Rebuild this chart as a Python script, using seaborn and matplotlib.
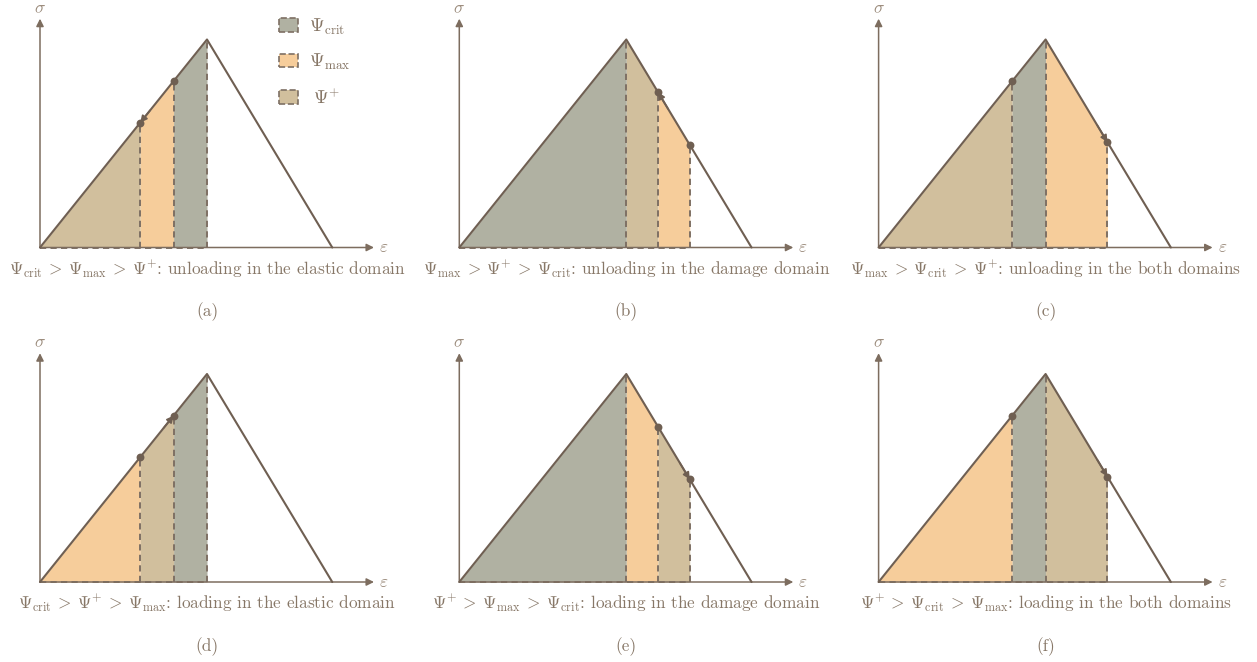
import numpy as np
import matplotlib
matplotlib.use("Agg")
import matplotlib.pyplot as plt
from matplotlib.patches import Patch
import seaborn as sns

sns.set_theme(style="white")
plt.rcParams["font.family"] = "serif"
plt.rcParams["font.serif"] = ["cmr10", "DejaVu Serif"]
plt.rcParams["mathtext.fontset"] = "cm"
plt.rcParams["axes.unicode_minus"] = False

# Bilinear softening law: elastic branch up to the peak, linear softening to failure
eps_curve = [0.0, 1.0, 1.75]
sigma_curve = [0.0, 1.0, 0.0]

# Energy thresholds (strain positions) bounding the shaded regions of each case
breaks = [
    [0.0, 0.6, 0.8, 1.0],
    [0.0, 1.0, 1.19, 1.38],
    [0.0, 0.8, 1.0, 1.37],
    [0.0, 0.6, 0.8, 1.0],
    [0.0, 1.0, 1.19, 1.38],
    [0.0, 0.8, 1.0, 1.37],
]
region_kinds = [
    ["plus", "max", "crit"],
    ["crit", "plus", "max"],
    ["plus", "crit", "max"],
    ["max", "plus", "crit"],
    ["crit", "max", "plus"],
    ["max", "crit", "plus"],
]
# Current and previous states marked on the curve; the arrow points to arrow_to
arrow_from = [0.8, 1.38, 0.8, 0.6, 1.19, 0.8]
arrow_to = [0.6, 1.19, 1.37, 0.8, 1.38, 1.37]

captions = [
    r"$\Psi_{\rm crit} \:>\: \Psi_{\max} \:>\: \Psi^{+}$: unloading in the elastic domain",
    r"$\Psi_{\max} \:>\: \Psi^{+} \:>\: \Psi_{\rm crit}$: unloading in the damage domain",
    r"$\Psi_{\max} \:>\: \Psi_{\rm crit} \:>\: \Psi^{+}$: unloading in the both domains",
    r"$\Psi_{\rm crit} \:>\: \Psi^{+} \:>\: \Psi_{\max}$: loading in the elastic domain",
    r"$\Psi^{+} \:>\: \Psi_{\max} \:>\: \Psi_{\rm crit}$: loading in the damage domain",
    r"$\Psi^{+} \:>\: \Psi_{\rm crit} \:>\: \Psi_{\max}$: loading in the both domains",
]
sub_labels = ["(a)", "(b)", "(c)", "(d)", "(e)", "(f)"]

legend_labels = {"crit": r"$\Psi_{\rm crit}$", "max": r"$\Psi_{\max}$", "plus": r"$\;\Psi^{+}$"}

fill_colors = {"crit": "#b0b1a2", "max": "#f6cd9b", "plus": "#d1bf9d"}
curve_color = "#6f5f52"
axis_color = "#7d6d5f"
dash_color = "#7e7064"
text_color = "#877767"

W, H = 1257, 662
fig = plt.figure(figsize=(W / 100, H / 100), dpi=100)

# Pixel layout of the six panels (origin of each sketch) and drawing scale
origins = [(40, 247.5), (459.3, 247.5), (878.6, 247.5),
           (40, 582), (459.3, 582), (878.6, 582)]
sx, sy = 167.0, 208.0
x0, x1, y0, y1 = -0.22, 2.25, -0.36, 1.2


def curve_at(e):
    return np.interp(e, eps_curve, sigma_curve)


axes = []
for k, (ox, oy) in enumerate(origins):
    left = (ox + x0 * sx) / W
    bottom = (H - oy + y0 * sy) / H
    ax = fig.add_axes([left, bottom, (x1 - x0) * sx / W, (y1 - y0) * sy / H])
    ax.set_xlim(x0, x1)
    ax.set_ylim(y0, y1)
    ax.axis("off")
    axes.append(ax)

    b = breaks[k]
    # shaded energy regions
    for i, kind in enumerate(region_kinds[k]):
        xs = np.linspace(b[i], b[i + 1], 60)
        ax.fill_between(xs, 0, curve_at(xs), color=fill_colors[kind], lw=0, zorder=1)
    # dashed outlines
    for xb in b[1:]:
        ax.plot([xb, xb], [0, curve_at(xb)], ls=(0, (3.2, 2.2)), color=dash_color,
                lw=1.4, zorder=2)
    ax.plot([b[0], b[-1]], [0, 0], ls=(0, (3.2, 2.2)), color=dash_color, lw=1.4, zorder=2)

    # coordinate axes
    ax.annotate("", xy=(2.0, 0), xytext=(0, 0),
                arrowprops=dict(arrowstyle="-|>", color=axis_color, lw=1.1,
                                mutation_scale=11, shrinkA=0, shrinkB=0), zorder=3)
    ax.annotate("", xy=(0, 1.10), xytext=(0, 0),
                arrowprops=dict(arrowstyle="-|>", color=axis_color, lw=1.1,
                                mutation_scale=11, shrinkA=0, shrinkB=0), zorder=3)
    ax.text(2.03, 0, r"$\varepsilon$", color="#9a8a7a", fontsize=12.5, ha="left",
            va="center")
    ax.text(0, 1.15, r"$\sigma$", color="#9a8a7a", fontsize=12.5, ha="center",
            va="center")

    # softening curve
    sns.lineplot(x=eps_curve, y=sigma_curve, sort=False, color=curve_color, lw=1.5,
                 ax=ax, zorder=3)

    # states on the curve
    pts = [arrow_from[k], arrow_to[k]]
    sns.scatterplot(x=pts, y=curve_at(pts), color=curve_color, s=32, linewidth=0,
                    ax=ax, zorder=5)
    tip = arrow_to[k]
    direction = np.sign(arrow_to[k] - arrow_from[k])
    tail = tip - direction * 0.06
    ax.annotate("", xy=(tip, curve_at(tip)), xytext=(tail, curve_at(tail)),
                arrowprops=dict(arrowstyle="-|>", color=curve_color, lw=1.2,
                                mutation_scale=10, shrinkA=0, shrinkB=0), zorder=4)

    ax.text(1.0, -0.103, captions[k], color=text_color, fontsize=12.4, ha="center",
            va="center")
    ax.text(1.0, -0.31, sub_labels[k], color=text_color, fontsize=12.4, ha="center",
            va="center")

# legend for the energy regions
handles = [Patch(facecolor=fill_colors[key], edgecolor=dash_color, linestyle="--",
                 linewidth=1.2, label=legend_labels[key])
           for key in ["crit", "max", "plus"]]
leg = axes[0].legend(handles=handles, loc="upper left", frameon=False,
                     bbox_to_anchor=(262 / W, 1.0), bbox_transform=fig.transFigure,
                     fontsize=13.5, handlelength=1.0, handleheight=0.75,
                     labelspacing=0.8, handletextpad=0.6)
for t in leg.get_texts():
    t.set_color(text_color)

fig.savefig("out.png", dpi=100, facecolor="white")
